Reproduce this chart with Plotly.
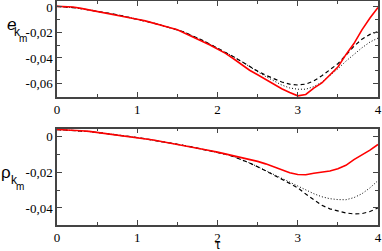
import plotly.graph_objects as go

# ───────── data ─────────
TAU = [0.0, 0.1, 0.2, 0.3, 0.4, 0.5, 0.6, 0.7, 0.8, 0.9,
       1.0, 1.1, 1.2, 1.3, 1.4, 1.5, 1.6, 1.7, 1.8, 1.9,
       2.0, 2.1, 2.2, 2.3, 2.4, 2.5, 2.6, 2.7, 2.8, 2.9,
       3.0, 3.1, 3.2, 3.3, 3.4, 3.5, 3.6, 3.7, 3.8, 3.9, 4.0]

# top pane: e_km
E_RED = [0.0005, 0.0004, 0.0000, -0.0011, -0.0023, -0.0031, -0.0044, -0.0057, -0.0071, -0.0082,
         -0.0096, -0.0109, -0.0128, -0.0141, -0.0161, -0.0178, -0.0206, -0.0233, -0.0266, -0.0296,
         -0.0331, -0.0364, -0.0406, -0.0449, -0.0496, -0.0531, -0.0568, -0.0606, -0.0641, -0.0670,
         -0.0697, -0.0686, -0.0636, -0.0596, -0.0534, -0.0471, -0.0374, -0.0287, -0.0179, -0.0086, -0.0004]
E_DASH = [0.0005, 0.0002, -0.0005, -0.0013, -0.0022, -0.0032, -0.0043, -0.0055, -0.0068, -0.0081,
          -0.0095, -0.0110, -0.0126, -0.0143, -0.0160, -0.0180, -0.0201, -0.0228, -0.0258, -0.0290,
          -0.0322, -0.0355, -0.0390, -0.0428, -0.0468, -0.0503, -0.0535, -0.0562, -0.0588, -0.0605,
          -0.0612, -0.0605, -0.0580, -0.0540, -0.0492, -0.0445, -0.0378, -0.0308, -0.0252, -0.0215, -0.0192]
E_DOT = [0.0005, 0.0002, -0.0005, -0.0013, -0.0022, -0.0032, -0.0043, -0.0055, -0.0068, -0.0081,
         -0.0095, -0.0110, -0.0126, -0.0143, -0.0160, -0.0180, -0.0201, -0.0228, -0.0258, -0.0290,
         -0.0322, -0.0355, -0.0390, -0.0428, -0.0470, -0.0508, -0.0545, -0.0580, -0.0612, -0.0635,
         -0.0645, -0.0645, -0.0625, -0.0590, -0.0540, -0.0485, -0.0425, -0.0370, -0.0320, -0.0275, -0.0244]

# bottom pane: rho_km
R_RED = [0.0041, 0.0040, 0.0037, 0.0034, 0.0031, 0.0025, 0.0019, 0.0014, 0.0009, 0.0002,
         -0.0003, -0.0012, -0.0018, -0.0026, -0.0034, -0.0042, -0.0049, -0.0058, -0.0068, -0.0077,
         -0.0086, -0.0096, -0.0107, -0.0117, -0.0128, -0.0138, -0.0152, -0.0168, -0.0185, -0.0202,
         -0.0212, -0.0213, -0.0205, -0.0200, -0.0192, -0.0180, -0.0160, -0.0128, -0.0103, -0.0075, -0.0043]
R_DASH = [0.0041, 0.0039, 0.0037, 0.0034, 0.0030, 0.0025, 0.0020, 0.0014, 0.0008, 0.0002,
          -0.0004, -0.0011, -0.0018, -0.0026, -0.0034, -0.0042, -0.0050, -0.0059, -0.0068, -0.0077,
          -0.0087, -0.0098, -0.0111, -0.0128, -0.0147, -0.0168, -0.0190, -0.0213, -0.0238, -0.0262,
          -0.0287, -0.0322, -0.0355, -0.0385, -0.0405, -0.0418, -0.0428, -0.0434, -0.0432, -0.0420, -0.0400]
R_DOT = [0.0041, 0.0039, 0.0037, 0.0034, 0.0030, 0.0025, 0.0020, 0.0014, 0.0008, 0.0002,
         -0.0004, -0.0011, -0.0018, -0.0026, -0.0034, -0.0042, -0.0050, -0.0059, -0.0068, -0.0077,
         -0.0087, -0.0098, -0.0111, -0.0128, -0.0147, -0.0168, -0.0190, -0.0212, -0.0235, -0.0257,
         -0.0278, -0.0300, -0.0320, -0.0337, -0.0348, -0.0353, -0.0354, -0.0342, -0.0320, -0.0287, -0.0246]

X_TICKS = [0, 1, 2, 3, 4]
X_TEXT = ["0", "1", "2", "3", "4"]
E_TICKS = [0, -0.02, -0.04, -0.06]
E_TEXT = ["0", "-0,02", "-0,04", "-0,06"]
R_TICKS = [0, -0.02, -0.04]
R_TEXT = ["0", "-0,02", "-0,04"]

W, H = 382, 251
ML, MR, MT, MB = 57, 4, 1, 26
PW, PH = W - ML - MR, H - MT - MB


def px(x):
    return (x - ML) / PW


def py(y):
    return (H - MB - y) / PH


fig = go.Figure()

panes = [
    ("x", "y", E_RED, E_DASH, E_DOT),
    ("x2", "y2", R_RED, R_DASH, R_DOT),
]
for xa, ya, red, dash, dot in panes:
    fig.add_trace(go.Scatter(x=TAU, y=dot, mode="lines", xaxis=xa, yaxis=ya,
                             line=dict(color="black", width=1, dash="1px,2px")))
    fig.add_trace(go.Scatter(x=TAU, y=dash, mode="lines", xaxis=xa, yaxis=ya,
                             line=dict(color="black", width=1.2, dash="4px,3px")))
    fig.add_trace(go.Scatter(x=TAU, y=red, mode="lines", xaxis=xa, yaxis=ya,
                             line=dict(color="#ff0000", width=1.6)))

SERIF = "Liberation Serif"
tick_font = dict(family=SERIF, size=13, color="black")
axis_common = dict(
    showgrid=False, zeroline=False, showline=True, linecolor="#444", linewidth=1.5,
    mirror="allticks", ticks="inside", ticklen=5, tickcolor="#444", tickwidth=1,
    tickfont=tick_font, automargin=False, ticklabeloverflow="allow",
)
x_minor = dict(tickvals=[0.5, 1.5, 2.5, 3.5], ticks="inside", ticklen=3, tickcolor="#444")
y_minor = dict(dtick=0.01, ticks="inside", ticklen=3, tickcolor="#444")

fig.update_layout(
    width=W, height=H,
    margin=dict(l=ML, r=MR, t=MT, b=MB),
    paper_bgcolor="white", plot_bgcolor="white",
    showlegend=False,
    font=dict(family=SERIF),
    xaxis=dict(domain=[0, 1], anchor="y", range=[0, 4], tickvals=X_TICKS, ticktext=X_TEXT,
               minor=x_minor, **axis_common),
    yaxis=dict(domain=[py(97), 1], anchor="x", range=[-0.0706, 0.0047],
               tickvals=E_TICKS, ticktext=E_TEXT, minor=y_minor, **axis_common),
    xaxis2=dict(domain=[0, 1], anchor="y2", range=[0, 4], tickvals=X_TICKS, ticktext=X_TEXT,
                minor=x_minor, **axis_common),
    yaxis2=dict(domain=[0, py(128.5)], anchor="x2", range=[-0.0496, 0.0047],
                tickvals=R_TICKS, ticktext=R_TEXT, minor=y_minor, **axis_common),
)

sans = "Liberation Sans"
labels = [
    ("<i>e</i>", 11, 25, 17, sans),
    ("k", 17.5, 31.5, 12, sans),
    ("m", 22.5, 39, 10, sans),
    ("ρ", 5.5, 172, 17, sans),
    ("k", 14, 179.5, 12, sans),
    ("m", 20, 186.5, 10, sans),
    ("τ", 218, 244, 14, SERIF),
]
for text, x, y, size, fam in labels:
    fig.add_annotation(text=text, xref="paper", yref="paper", x=px(x), y=py(y),
                       xanchor="center", yanchor="middle", showarrow=False,
                       font=dict(family=fam, size=size, color="black"))

# the page's default body margin would shift the figure by 8px
fig.write_html("out.html", config={"displayModeBar": False},
               post_script="document.body.style.margin='0';")
